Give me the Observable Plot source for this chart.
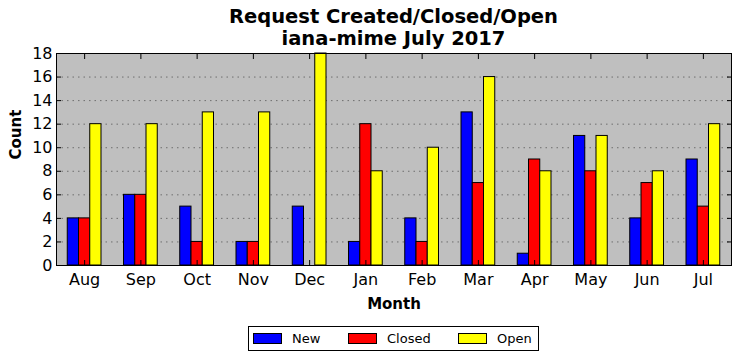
<!DOCTYPE html>
<html><head><meta charset="utf-8">
<script src="https://cdn.jsdelivr.net/npm/d3@7"></script>
<script src="https://cdn.jsdelivr.net/npm/@observablehq/plot@0.6"></script>
<style>
body{margin:0;background:#fff;font-family:"DejaVu Sans",sans-serif;}
#wrap{position:relative;width:740px;height:361px;overflow:hidden;}
#title{position:absolute;left:56px;width:675px;top:6px;text-align:center;font-weight:bold;font-size:19.5px;line-height:21.5px;color:#000;}
#chart{position:absolute;left:0;top:0;}
#legend{position:absolute;left:248px;top:326px;width:289px;height:23px;border:1px solid #000;background:#fff;font-size:13px;}
.li{position:absolute;top:0;height:23px;line-height:23px;}
.sw{display:inline-block;width:27px;height:9px;border:1px solid #000;vertical-align:middle;margin-right:10px;position:relative;top:-1px;}
</style></head>
<body><div id="wrap">
<div id="title">Request Created/Closed/Open<br>iana-mime July 2017</div>
<div id="chart"></div>
<div id="legend"></div>
</div>
<script>
const months = ["Aug","Sep","Oct","Nov","Dec","Jan","Feb","Mar","Apr","May","Jun","Jul"];
const series = ["New","Closed","Open"];
const newCounts = [4,6,5,2,5,2,4,13,1,11,4,9];
const closedCounts = [4,6,2,2,0,12,2,7,9,8,7,5];
const openCounts = [12,12,13,13,18,8,10,16,8,11,8,12];
const colors = ["#0000ff","#ff0000","#ffff00"];
const yTicks = [0,2,4,6,8,10,12,14,16,18];

const valuesBySeries = [newCounts, closedCounts, openCounts];
const rows = [];
months.forEach((m, i) => {
  series.forEach((s, k) => {
    const w = 0.2;
    const x1 = i - 1.5 * w + k * w;
    rows.push({month: m, series: s, value: valuesBySeries[k][i], x1, x2: x1 + w});
  });
});

const plot = Plot.plot({
  width: 740,
  height: 320,
  marginTop: 53,
  marginBottom: 55,
  marginLeft: 56,
  marginRight: 9,
  style: {fontFamily: "DejaVu Sans, sans-serif", background: "transparent", color: "#000"},
  x: {type: "linear", domain: [-0.5, 11.5], axis: null},
  y: {domain: [0, 18], axis: null},
  color: {domain: series, range: colors},
  marks: [
    Plot.frame({fill: "#bfbfbf"}),
    Plot.gridY({ticks: yTicks.slice(1, -1), stroke: "#6e6e6e", strokeOpacity: 1, strokeDasharray: "1.5,4", strokeWidth: 1}),
    Plot.rectY(rows.filter(d => d.value > 0), {x1: "x1", x2: "x2", y: "value", fill: "series", stroke: "#000", strokeWidth: 1}),
    Plot.axisY({ticks: yTicks, tickSize: 0, tickPadding: 4, fontSize: 16, label: null}),
    Plot.axisY({ticks: yTicks, anchor: "left", tickSize: -5, text: null, label: null}),
    Plot.axisY({ticks: yTicks, anchor: "right", tickSize: -5, text: null, label: null}),
    Plot.axisX({ticks: d3.range(months.length), tickFormat: i => months[i], anchor: "bottom", tickSize: 0, tickPadding: 8, fontSize: 16, label: null}),
    Plot.axisX({ticks: d3.range(months.length), anchor: "bottom", tickSize: -5, text: null, label: null}),
    Plot.axisX({ticks: d3.range(months.length), anchor: "top", tickSize: -5, text: null, label: null}),
    Plot.frame({stroke: "#000", strokeWidth: 1}),
    Plot.text(["Count"], {frameAnchor: "left", rotate: -90, dx: -40, fontSize: 15, fontWeight: "bold"}),
    Plot.text(["Month"], {frameAnchor: "bottom", dy: 43, fontSize: 15, fontWeight: "bold"})
  ]
});
document.getElementById("chart").appendChild(plot);

const legend = document.getElementById("legend");
const lx = [4, 99, 209];
series.forEach((s, k) => {
  const d = document.createElement("div");
  d.className = "li";
  d.style.left = lx[k] + "px";
  const sw = document.createElement("span");
  sw.className = "sw";
  sw.style.background = colors[k];
  d.appendChild(sw);
  d.appendChild(document.createTextNode(s));
  legend.appendChild(d);
});
</script>
</body></html>
